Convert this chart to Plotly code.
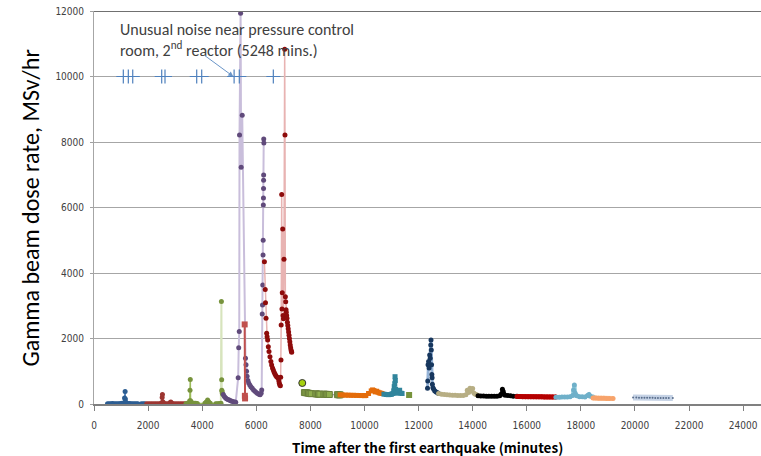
import plotly.graph_objects as go

# ---------------- data ----------------
blue_x = [500, 560, 620, 680, 740, 800, 860, 920, 980, 1040, 1100, 1130, 1150, 1160, 1170, 1200, 1260, 1320, 1380, 1440, 1500, 1560, 1620, 1750, 1820, 1880]
blue_y = [10, 10, 8, 12, 10, 9, 11, 10, 12, 20, 30, 180, 380, 150, 60, 25, 15, 12, 10, 10, 9, 8, 10, 8, 9, 10]

brick_x = [1950, 2020, 2090, 2160, 2230, 2300, 2370, 2440, 2500, 2520, 2530, 2550, 2600, 2670, 2740, 2810, 2840, 2880, 2950, 3020, 3090, 3160, 3230, 3300, 3370]
brick_y = [5, 5, 6, 5, 6, 7, 8, 10, 40, 200, 290, 60, 15, 10, 8, 40, 60, 20, 8, 6, 5, 5, 6, 5, 5]

olive_x = [3400, 3450, 3500, 3540, 3550, 3560, 3570, 3600, 3650, 3700, 3760, 3820, 4100, 4150, 4200, 4230, 4260, 4300, 4500, 4550, 4600, 4650, 4690]
olive_y = [10, 20, 30, 100, 420, 750, 100, 40, 30, 25, 20, 15, 20, 60, 120, 80, 40, 20, 10, 10, 10, 12, 15]

lgreen_x = [4690, 4710, 4720, 4725, 4735, 4745, 4760]
lgreen_y = [20, 3130, 740, 420, 380, 330, 300]

purple_x = [4780, 4820, 4860, 4900, 4950, 5000, 5050, 5100, 5150, 5200, 5240, 5330, 5350, 5370, 5380, 5420, 5440, 5480,
            5600, 5620, 5640, 5660, 5690, 5720, 5760, 5800, 5850, 5900, 5950, 6000, 6050, 6100, 6140, 6180, 6200,
            6220, 6230, 6240, 6250, 6255, 6260, 6265, 6268, 6270, 6272, 6275, 6280]
purple_y = [290, 230, 190, 160, 140, 120, 100, 85, 70, 60, 55, 800, 1720, 2210, 8210, 11930, 7230, 8820,
            1400, 1200, 1000, 850, 720, 640, 580, 530, 480, 430, 390, 350, 320, 300, 280, 330, 430,
            2750, 3020, 3630, 4550, 5000, 6080, 6290, 6580, 6830, 6990, 8090, 7970]

redsq_x = [5570, 5578, 5585]
redsq_y = [2430, 250, 170]

maroon_x = [6300, 6330, 6340, 6360, 6384, 6400, 6420, 6445, 6470, 6506, 6540, 6568, 6600, 6630, 6660, 6690, 6720, 6753, 6785, 6815, 6835,
            6852, 6870, 6890, 6902, 6913, 6920, 6939, 6950, 6961, 6976, 6990, 7005, 7024, 7050, 7061, 7075, 7087, 7100, 7109, 7122,
            7135, 7150, 7165, 7180, 7195, 7210, 7225, 7240, 7255, 7270, 7285, 7300, 7309]
maroon_y = [4345, 3500, 3093, 2616, 2158, 2050, 1954, 1750, 1600, 1444, 1300, 1190, 1100, 1038, 970, 916, 870, 834, 810, 783, 700,
            631, 580, 560, 815, 1343, 2412, 6400, 2900, 3400, 5343, 2700, 2600, 4418, 10830, 8213, 3277, 3124, 2880, 2800, 2700,
            2620, 2500, 2400, 2300, 2200, 2100, 2000, 1900, 1800, 1720, 1650, 1600, 1578]

lime_x = [7700]
lime_y = [641]

gsq_x = [7780, 7830, 7880, 7930, 7980, 8030, 8200, 8250, 8300, 8350, 8500, 8550, 8600, 8650, 8700, 9000, 9050, 9100]
gsq_y = [350, 345, 340, 330, 320, 315, 310, 305, 300, 300, 300, 295, 295, 290, 290, 285, 280, 280]

orange_x = [9100, 9200, 9300, 9400, 9500, 9600, 9700, 9800, 9900, 10000, 10050, 10150, 10250, 10300, 10350, 10400, 10450, 10500, 10550, 10600, 10650]
orange_y = [280, 275, 270, 270, 265, 265, 262, 260, 258, 255, 260, 320, 400, 430, 410, 370, 390, 360, 340, 330, 320]

teal_x = [10720, 10800, 10880, 10950, 11000, 11050, 11080, 11100, 11120, 11130, 11140, 11150, 11170, 11200, 11250, 11300, 11350, 11390]
teal_y = [300, 290, 285, 290, 300, 320, 400, 530, 620, 834, 720, 450, 380, 330, 350, 420, 330, 320]

gsingle_x = [11650]
gsingle_y = [275]

navy_x = [12330, 12340, 12350, 12370, 12390, 12410, 12430, 12450, 12460, 12470, 12480, 12490, 12500, 12510, 12530, 12560, 12600, 12650, 12700, 12740]
navy_y = [480, 700, 1200, 1300, 1100, 1500, 1400, 1800, 1954, 1650, 1200, 900, 800, 600, 500, 450, 400, 370, 340, 320]

khaki_x = [12740, 12850, 12950, 13050, 13150, 13250, 13350, 13450, 13550, 13650, 13750, 13800, 13850, 13900, 13950, 14000, 14050, 14100, 14150, 14200]
khaki_y = [320, 300, 290, 280, 275, 270, 265, 262, 260, 262, 280, 420, 350, 480, 400, 470, 330, 300, 280, 260]

black_x = [14200, 14300, 14400, 14500, 14600, 14700, 14800, 14900, 15000, 15050, 15100, 15130, 15160, 15200, 15300, 15400, 15500, 15640]
black_y = [250, 245, 245, 240, 240, 238, 236, 240, 250, 300, 450, 380, 300, 270, 260, 250, 240, 235]

red_x = [15640, 15750, 15850, 15950, 16050, 16150, 16250, 16350, 16450, 16550, 16650, 16750, 16850, 16950, 17080]
red_y = [230, 228, 225, 225, 222, 222, 220, 220, 218, 218, 216, 215, 214, 212, 210]

sky_x = [17080, 17200, 17300, 17400, 17500, 17600, 17700, 17730, 17760, 17790, 17850, 17950, 18050, 18150, 18250, 18300, 18350, 18450]
sky_y = [205, 205, 210, 210, 215, 220, 260, 430, 580, 330, 250, 225, 220, 215, 260, 290, 240, 210]

peach_x = [18450, 18550, 18650, 18750, 18850, 18950, 19050, 19190]
peach_y = [185, 180, 178, 175, 172, 170, 168, 165]

steel_x = [19930, 20050, 20150, 20250, 20350, 20450, 20550, 20650, 20750, 20850, 20950, 21050, 21150, 21250, 21400]
steel_y = [195, 195, 192, 192, 190, 190, 188, 188, 186, 186, 185, 185, 183, 182, 180]

event_x = [1084, 1269, 1432, 2503, 2625, 3797, 3982, 5180, 5372, 6630]
event_y = [10000, 10000, 10000, 10000, 10000, 10000, 10000, 10000, 10000, 10000]

x_ticks = [0, 2000, 4000, 6000, 8000, 10000, 12000, 14000, 16000, 18000, 20000, 22000, 24000]
y_ticks = [0, 2000, 4000, 6000, 8000, 10000, 12000]

# ---------------- figure ----------------
fig = go.Figure()

def add(x, y, mcolor, lcolor, lwidth=1.5, msize=5, symbol="circle", mline=None):
    fig.add_trace(go.Scatter(
        x=x, y=y, mode="lines+markers",
        line=dict(color=lcolor, width=lwidth),
        marker=dict(color=mcolor, size=msize, symbol=symbol,
                    line=dict(color=mline or mcolor, width=1 if mline else 0)),
        showlegend=False, hoverinfo="x+y"))

add(blue_x, blue_y, "#2C5D92", "#4F81BD")
add(brick_x, brick_y, "#9C3531", "#C0504D")
add(olive_x, olive_y, "#77933C", "#9BBB59")
add(lgreen_x, lgreen_y, "#77933C", "#D7E4BD", lwidth=2)
add(purple_x, purple_y, "#604A7B", "#C9BEDB", lwidth=2)
add(redsq_x, redsq_y, "#C0504D", "#C0504D", lwidth=2, msize=6, symbol="square")
add(maroon_x, maroon_y, "#8E0B0B", "#E8B3B2", lwidth=1.5)
add(lime_x, lime_y, "#A6D10F", "#A6D10F", msize=7, mline="#333333")
add(gsq_x, gsq_y, "#8FAE4E", "#A6A6A6", lwidth=1.5, msize=6, symbol="square", mline="#6A7F3A")
add(orange_x, orange_y, "#E46C0A", "#FAC090", lwidth=1.5, msize=5, symbol="square")
add(teal_x, teal_y, "#31859C", "#93CDDD", lwidth=1.5, msize=5, symbol="square")
add(gsingle_x, gsingle_y, "#77933C", "#77933C", msize=6, symbol="square")
add(navy_x, navy_y, "#17375E", "#95B3D7", lwidth=3, msize=5)
add(khaki_x, khaki_y, "#B7AE84", "#DDD9C3", lwidth=3, msize=5)
add(black_x, black_y, "#000000", "#000000", lwidth=3, msize=5)
add(red_x, red_y, "#B40000", "#C00000", lwidth=5, msize=5)
add(sky_x, sky_y, "#6FB0C9", "#93CDDD", lwidth=4, msize=5)
add(peach_x, peach_y, "#F7A36B", "#FAC090", lwidth=5, msize=5)
add(steel_x, steel_y, "#5A6E8C", "#C5D2E5", lwidth=6, msize=2)

fig.add_trace(go.Scatter(
    x=event_x, y=event_y, mode="markers",
    marker=dict(symbol="cross-thin", size=10, line=dict(color="#4F81BD", width=1.2)),
    showlegend=False, hoverinfo="x"))

fig.add_annotation(
    x=0.036, y=0.982, xref="paper", yref="paper", xanchor="left", yanchor="top",
    text="Unusual noise near pressure control<br>room, 2<sup>nd</sup> reactor (5248 mins.)",
    showarrow=False, align="left",
    font=dict(family="Carlito, Lato, sans-serif", size=16, color="#404040"))

fig.add_annotation(
    x=5150, y=10000, xref="x", yref="y", text="", showarrow=True,
    ax=-30, ay=-22, arrowhead=2, arrowsize=1, arrowwidth=1, arrowcolor="#6A95C8")

fig.add_annotation(
    x=-0.0945, y=0.5, xref="paper", yref="paper", xanchor="center", yanchor="middle",
    text="Gamma beam dose rate, MSv/hr", textangle=-90, showarrow=False,
    font=dict(family="Carlito, Lato, sans-serif", size=24, color="#000000"))

fig.add_annotation(
    x=0.5, y=-0.109, xref="paper", yref="paper", xanchor="center", yanchor="middle",
    text="<b>Time after the first earthquake (minutes)</b>", showarrow=False,
    font=dict(family="Noto Sans CJK JP, sans-serif", size=13.5, color="#000000"))

fig.update_layout(
    width=761, height=456,
    margin=dict(l=94, r=0, t=11, b=52),
    paper_bgcolor="white", plot_bgcolor="white",
    xaxis=dict(range=[0, 24660], tickvals=x_ticks, tickformat="d", ticks="outside", ticklen=5,
               tickcolor="#808080", showgrid=False, zeroline=False,
               showline=True, linecolor="#808080", linewidth=2,
               ticklabelstandoff=6,
               tickfont=dict(family="Liberation Sans Narrow, DejaVu Sans Condensed, sans-serif", size=10, color="#404040")),
    yaxis=dict(range=[0, 12000], tickvals=y_ticks, tickformat="d", ticks="outside", ticklen=3,
               tickcolor="#A0A0A0", showgrid=True, gridcolor="#A6A6A6", gridwidth=1,
               zeroline=False, showline=True, linecolor="#A6A6A6", linewidth=1,
               ticklabelstandoff=4,
               tickfont=dict(family="Liberation Sans Narrow, DejaVu Sans Condensed, sans-serif", size=10, color="#404040")),
    shapes=[dict(type="line", xref="paper", yref="y", x0=0, x1=1, y0=12000, y1=12000,
                 line=dict(color="#707070", width=2))],
)

fig.write_html("out.html", config={"displayModeBar": False},
               post_script="document.body.style.margin='0';document.body.style.padding='0';")
